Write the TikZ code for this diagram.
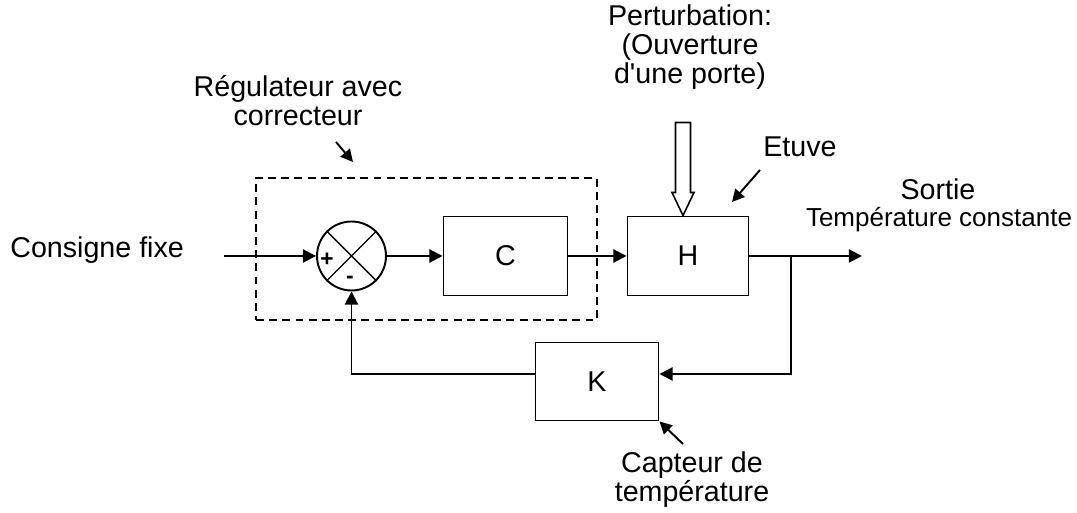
\documentclass[tikz,border=0pt]{standalone}
\usepackage{fontspec}
\setmainfont{Liberation Sans}[Ligatures=TeXOff]
\usetikzlibrary{
    arrows.meta,
    calc,
    positioning,
    backgrounds
}
\definecolor{ink}{RGB}{0,0,0}
\tikzset{
    block/.style={
        rectangle,
        draw=ink,
        line width=1.1pt,
        minimum width=2.46cm,
        minimum height=1.58cm,
        inner sep=0pt,
        text=ink
    },
    summer/.style={
        circle,
        draw=ink,
        line width=1.1pt,
        minimum size=1.38cm,
        inner sep=0pt
    },
    regulbox/.style={
        rectangle,
        draw=ink,
        line width=1.1pt,
        dash pattern=on 4.5pt off 3pt,
        minimum width=6.82cm,
        minimum height=2.84cm,
        inner sep=0pt
    },
    signal/.style={
        -{Triangle[length=7.5pt,width=7.5pt]},
        draw=ink,
        line width=1.1pt
    },
    pointer/.style={
        -{Triangle[length=7pt,width=7pt]},
        draw=ink,
        line width=1.1pt
    },
    crossline/.style={
        draw=ink,
        line width=0.8pt
    },
    perturb/.style={
        draw=ink,
        line width=0.9pt,
        fill=white,
        line join=miter
    },
    annot/.style={
        text=ink,
        inner sep=0pt,
        align=center
    },
    annotsmall/.style={
        annot,
        font=\fontsize{14.8}{16.5}\selectfont
    },
    signmark/.style={
        font=\fontsize{13}{13}\selectfont\bfseries,
        inner sep=0pt
    }
}

\begin{document}
\begin{tikzpicture}[
    every node/.style={font=\fontsize{16.3}{16.5}\selectfont},
    show background rectangle,
    background rectangle/.style={fill=white}
]
\useasboundingbox (0,0) rectangle (21.54,10.26);

% Regulator: comparator and corrector
\node[regulbox] (regul) at (8.53, 5.28) {};
\node[summer] (sum) at (7.03, 5.14) {};
\draw[crossline] (sum.north west) -- (sum.south east) (sum.north east) -- (sum.south west);
\node[signmark] (plus) at (6.54, 5.06) {+};
\node[signmark] (minus) at (7.00, 4.66) {-};
\node[block, minimum width=2.48cm] (C) at (10.11, 5.14) {C};

% Process and sensor
\node[block, minimum width=2.42cm] (H) at (13.76, 5.14) {H};
\node[block, minimum height=1.56cm] (K) at (11.94, 2.63) {K};

% Loop signals
\coordinate (in) at (4.48, 5.14);
\coordinate (br) at (15.82, 5.14);
\coordinate (out) at (17.24, 5.14);
\draw[signal] (in) -- (sum.west);
\draw[signal] (sum.east) -- (C.west);
\draw[signal] (C.east) -- (H.west);
\draw[signal] (H.east) -- (out);
\draw[signal] (br) |- ([yshift=0.15cm]K.east);
\draw[signal] ([yshift=0.15cm]K.west) -| (sum.south);

% Disturbance (hollow arrow)
\draw[perturb] ([xshift=-0.1cm]H.north) -- ++(-0.22,0.46) -- ++(0.07,0) -- ++(0,1.40)
    -- ++(0.30,0) -- ++(0,-1.40) -- ++(0.07,0) -- cycle;

% Labels (base = last line)
\node[annot, anchor=base west] (consigne) at (0.20, 5.10) {Consigne fixe};
\node[annot, anchor=base] (regultxt) at (5.96, 7.74) {R\'egulateur avec\\correcteur};
\node[annot, anchor=base] (perttxt) at (13.80, 8.58) {Perturbation:\\(Ouverture\\d'une porte)};
\node[annot, anchor=base] (etuve) at (16.00, 7.12) {Etuve};
\node[annot, anchor=base] (sortie) at (18.76, 6.26) {Sortie};
\node[annotsmall, anchor=base] (temp) at (18.78, 5.72) {Temp\'erature constante};
\node[annot, anchor=base] (capteur) at (13.84, 0.22) {Capteur de\\temp\'erature};

% Pointers
\coordinate (regfrom) at (6.72, 7.42);
\coordinate (regto) at (7.06, 7.02);
\coordinate (etfrom) at (15.20, 6.86);
\coordinate (etto) at (14.64, 6.22);
\coordinate (capfrom) at (13.66, 1.38);
\draw[pointer] (regfrom) -- (regto);
\draw[pointer] (etfrom) -- (etto);
\draw[pointer] (capfrom) -- (K.south east);
\end{tikzpicture}
\end{document}
